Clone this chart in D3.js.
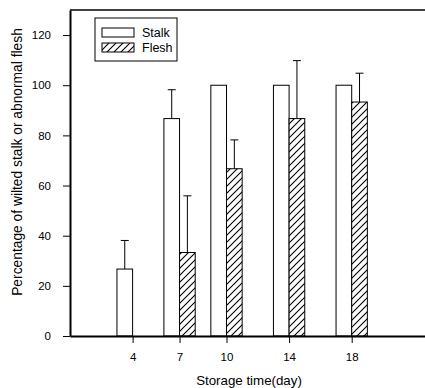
<!DOCTYPE html>
<html>
<head>
<meta charset="utf-8">
<script src="https://cdn.jsdelivr.net/npm/d3@7"></script>
<style>
  body { margin: 0; background: #fff; }
  svg { display: block; font-family: Arial, "Liberation Sans", sans-serif; }
</style>
</head>
<body>
<div id="chart"></div>
<script>
// data
var days = [4, 7, 10, 14, 18];
var stalk = [26.7, 86.7, 100, 100, 100];
var stalkErr = [11.4, 11.5, 0, 0, 0];
var flesh = [0, 33.3, 66.7, 86.7, 93.3];
var fleshErr = [0, 22.6, 11.5, 23.1, 11.5];
var yTicks = [0, 20, 40, 60, 80, 100, 120];
var seriesNames = ["Stalk", "Flesh"];

var W = 425, H = 388;
var margin = { top: 10, left: 70, bottom: 52 },
    plotBottom = H - margin.bottom;

var svg = d3.select("#chart").append("svg")
    .attr("width", W)
    .attr("height", H);

// hatch pattern for flesh
var defs = svg.append("defs");
var pat = defs.append("pattern")
    .attr("id", "hatch")
    .attr("patternUnits", "userSpaceOnUse")
    .attr("width", 7)
    .attr("height", 7);
pat.append("rect").attr("width", 7).attr("height", 7).attr("fill", "#fff");
pat.append("path")
    .attr("d", "M-1,1 L1,-1 M0,7 L7,0 M6,8 L8,6")
    .attr("stroke", "#000")
    .attr("stroke-width", 1.1);

var x = d3.scaleLinear().domain([0, 23]).range([margin.left, margin.left + 23 * 15.65]);
var y = d3.scaleLinear().domain([0, 130]).range([plotBottom, margin.top]);

var data = days.map(function(d, i) {
    return { day: d, stalk: stalk[i], stalkErr: stalkErr[i], flesh: flesh[i], fleshErr: fleshErr[i] };
});

// bars: stalk sits left of the tick, flesh right of it
var g = svg.append("g");

g.selectAll("rect.stalk")
    .data(data)
    .enter().append("rect")
    .attr("class", "stalk")
    .attr("x", function(d) { return x(d.day - 1); })
    .attr("y", function(d) { return y(d.stalk); })
    .attr("width", function(d) { return x(d.day) - x(d.day - 1); })
    .attr("height", function(d) { return y(0) - y(d.stalk); })
    .attr("fill", "#fff")
    .attr("stroke", "#000")
    .attr("stroke-width", 1);

g.selectAll("rect.flesh")
    .data(data.filter(function(d) { return d.flesh > 0; }))
    .enter().append("rect")
    .attr("class", "flesh")
    .attr("x", function(d) { return x(d.day); })
    .attr("y", function(d) { return y(d.flesh); })
    .attr("width", function(d) { return x(d.day + 1) - x(d.day); })
    .attr("height", function(d) { return y(0) - y(d.flesh); })
    .attr("fill", "url(#hatch)")
    .attr("stroke", "#000")
    .attr("stroke-width", 1);

// error bars (upper only)
function errBars(key, errKey, offset) {
    var e = g.selectAll("g." + key + "-err")
        .data(data.filter(function(d) { return d[errKey] > 0; }))
        .enter().append("g")
        .attr("class", key + "-err")
        .attr("stroke", "#000")
        .attr("stroke-width", 1);
    e.append("line")
        .attr("x1", function(d) { return x(d.day + offset); })
        .attr("x2", function(d) { return x(d.day + offset); })
        .attr("y1", function(d) { return y(d[key]); })
        .attr("y2", function(d) { return y(d[key] + d[errKey]); });
    e.append("line")
        .attr("x1", function(d) { return x(d.day + offset) - 4; })
        .attr("x2", function(d) { return x(d.day + offset) + 4; })
        .attr("y1", function(d) { return y(d[key] + d[errKey]); })
        .attr("y2", function(d) { return y(d[key] + d[errKey]); });
}
errBars("stalk", "stalkErr", -0.5);
errBars("flesh", "fleshErr", 0.5);

// axes
var yAxis = svg.append("g")
    .attr("transform", "translate(" + margin.left + ",0)")
    .call(d3.axisLeft(y).tickValues(yTicks).tickSize(7).tickSizeOuter(0).tickPadding(12));
yAxis.select(".domain").attr("stroke-width", 2);
yAxis.selectAll("text").style("font-size", "11.5px").attr("fill", "#000");

var xAxis = svg.append("g")
    .attr("transform", "translate(0," + plotBottom + ")")
    .call(d3.axisBottom(x).tickValues(days).tickSize(7).tickSizeOuter(0).tickPadding(10));
xAxis.select(".domain").attr("stroke-width", 2.2);
xAxis.selectAll("text").style("font-size", "11.5px").attr("fill", "#000");

// top frame line
svg.append("line")
    .attr("x1", margin.left).attr("x2", W)
    .attr("y1", margin.top).attr("y2", margin.top)
    .attr("stroke", "#000").attr("stroke-width", 1.5);

// axis labels
svg.append("text")
    .attr("x", 249)
    .attr("y", 385)
    .attr("text-anchor", "middle")
    .style("font-size", "13.3px")
    .text("Storage time(day)");

svg.append("text")
    .attr("text-anchor", "middle")
    .attr("transform", "translate(22,162)rotate(-90)")
    .style("font-size", "13.8px")
    .text("Percentage of wilted stalk or abnormal flesh");

// legend
var legend = svg.append("g").attr("transform", "translate(95,18)");
legend.append("rect")
    .attr("width", 82).attr("height", 43)
    .attr("fill", "#fff").attr("stroke", "#000").attr("stroke-width", 1);
var item = legend.selectAll("g.item")
    .data(seriesNames)
    .enter().append("g")
    .attr("class", "item")
    .attr("transform", function(d, i) { return "translate(7," + (10 + i * 15) + ")"; });
item.append("rect")
    .attr("width", 32).attr("height", 9)
    .attr("fill", function(d, i) { return i === 0 ? "#fff" : "url(#hatch)"; })
    .attr("stroke", "#000").attr("stroke-width", 1);
item.append("text")
    .attr("x", 40).attr("y", 9)
    .style("font-size", "12.5px")
    .text(function(d) { return d; });
</script>
</body>
</html>
